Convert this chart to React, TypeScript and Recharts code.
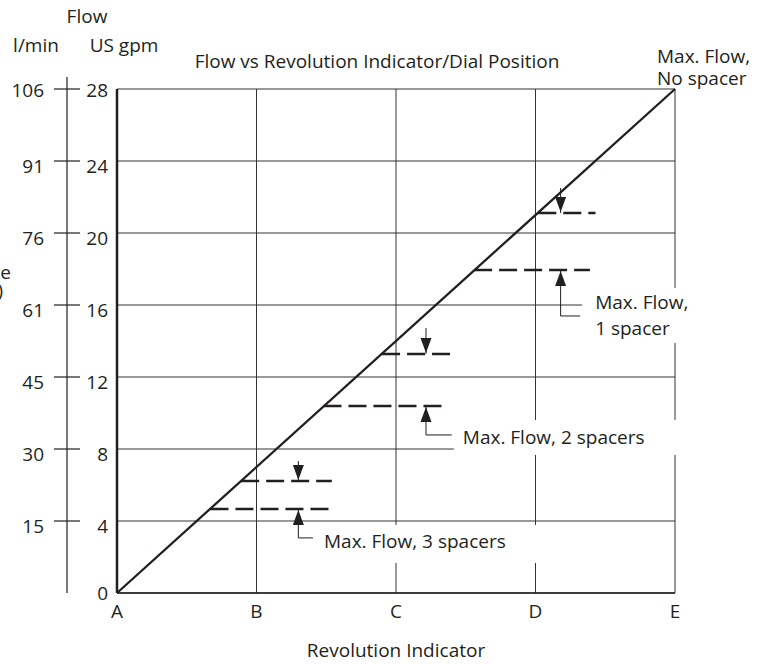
import React from "react";
import {
  ComposedChart,
  Line,
  XAxis,
  YAxis,
  CartesianGrid,
  ReferenceDot,
} from "recharts";

const positions = ["A", "B", "C", "D", "E"];
const positionTicks = [0, 1, 2, 3, 4];
const gpmTicks = [0, 4, 8, 12, 16, 20, 24, 28];
const lminLabels = ["", "15", "30", "45", "61", "76", "91", "106"];

// max flow with no spacer
const noSpacer = [
  { pos: 0, gpm: 0 },
  { pos: 4, gpm: 28 },
];

// dashed limits (pairs per spacer count: lower, upper)
const limitStart = [0.67, 0.89, 1.48, 1.9, 2.56, 3.02];
const limitEnd = [1.54, 1.54, 2.37, 2.4, 3.39, 3.43];
const limitGpm = [4.67, 6.22, 10.39, 13.28, 17.94, 21.11];

// arrows + leaders for 3, 2, 1 spacers
const arrowPos = [1.3, 2.215, 3.18];
const arrowTop = [7.33, 14.72, 22.5];
const leaderGpm = [3.06, 8.78, 15.39];
const leaderEnd = [1.405, 2.4, 3.32];
const spacerNotes = [
  ["Max. Flow, 3 spacers"],
  ["Max. Flow, 2 spacers"],
  ["Max. Flow,", "1 spacer"],
];

const INK = "#231f20";
const FONT = "'Open Sans', sans-serif";
const FS = 19;

// white boxes behind the notes, px offsets from leader end
const noteLayout = [
  { bx: 5, by: -13, bw: 232, bh: 38, tx: 11, ty: [10] },
  { bx: 2, by: -15, bw: 232, bh: 35, tx: 11, ty: [9] },
  { bx: 2, by: -28, bw: 125, bh: 55, tx: 15, ty: [-7, 19] },
];

function GpmTick(props: any) {
  const { x, y, payload } = props;
  const v = payload.value;
  const dy = v === 28 ? 1 : v === 0 ? 0 : 5;
  return (
    <text x={x} y={y + dy + 6.8} textAnchor="end" fill={INK} fontSize={FS} fontFamily={FONT}>
      {v}
    </text>
  );
}

function LminTick(props: any) {
  const { x, y, payload } = props;
  const v = payload.value;
  const label = lminLabels[gpmTicks.indexOf(v)] ?? "";
  const dy = v === 28 ? 1 : 5;
  return (
    <g>
      {v === 28 && <line x1={x} x2={x} y1={y - 12} y2={y} stroke={INK} strokeWidth={1.2} />}
      {label && <line x1={x - 13} x2={x + 13} y1={y} y2={y} stroke={INK} strokeWidth={1.2} />}
      {label && (
        <text x={x - 23} y={y + dy + 6.8} textAnchor="end" fill={INK} fontSize={FS} fontFamily={FONT}>
          {label}
        </text>
      )}
    </g>
  );
}

const arrowDown = (p: any) => (
  <path d={`M${p.cx - 5.5},${p.cy - 16} L${p.cx + 5.5},${p.cy - 16} L${p.cx},${p.cy - 1} Z`} fill={INK} />
);
const arrowUp = (p: any) => (
  <path d={`M${p.cx - 5.5},${p.cy + 16} L${p.cx + 5.5},${p.cy + 16} L${p.cx},${p.cy + 1} Z`} fill={INK} />
);

function note(i: number) {
  const l = noteLayout[i];
  return (p: any) => (
    <g>
      <rect x={p.cx + l.bx} y={p.cy + l.by} width={l.bw} height={l.bh} fill="#fff" />
      {spacerNotes[i].map((t, k) => (
        <text key={k} x={p.cx + l.tx} y={p.cy + l.ty[k]} fill={INK} fontSize={FS} fontFamily={FONT}>
          {t}
        </text>
      ))}
    </g>
  );
}

const topNote = (p: any) => (
  <g>
    <text x={p.cx - 18} y={p.cy - 26} fill={INK} fontSize={FS} fontFamily={FONT}>
      Max. Flow,
    </text>
    <text x={p.cx - 18} y={p.cy - 4} fill={INK} fontSize={FS} fontFamily={FONT}>
      No spacer
    </text>
  </g>
);

export default function App() {
  return (
    <div style={{ position: "absolute", left: 0, top: 0, width: 762, height: 664, background: "#fff" }}>
      <ComposedChart
        width={762}
        height={664}
        margin={{ top: 89, right: 87, left: 0, bottom: 0 }}
        style={{ fontFamily: FONT }}
      >
        <CartesianGrid stroke="#333" strokeWidth={1} />
        <XAxis
          type="number"
          dataKey="pos"
          domain={[0, 4]}
          ticks={positionTicks}
          tickFormatter={(v) => positions[v]}
          height={71}
          tickSize={0}
          tickMargin={12}
          tick={{ fill: INK, fontSize: FS }}
          axisLine={{ stroke: INK, strokeWidth: 1.5 }}
          label={{ value: "Revolution Indicator", position: "insideBottom", offset: 7, fill: INK, fontSize: FS }}
        />
        <YAxis
          type="number"
          domain={[0, 28]}
          ticks={gpmTicks}
          width={50}
          tickSize={0}
          tickMargin={9}
          tick={<GpmTick />}
          axisLine={{ stroke: INK, strokeWidth: 2.5 }}
        />
        <YAxis
          yAxisId="lmin"
          type="number"
          domain={[0, 28]}
          ticks={gpmTicks}
          width={67}
          tickSize={0}
          tickMargin={0}
          tick={<LminTick />}
          axisLine={{ stroke: INK, strokeWidth: 1.2 }}
        />
        {/* keeps the l/min axis bound to data so its ticks render */}
        <Line
          yAxisId="lmin"
          data={noSpacer}
          dataKey="gpm"
          stroke="none"
          dot={false}
          activeDot={false}
          isAnimationActive={false}
        />
        <Line
          data={noSpacer}
          dataKey="gpm"
          type="linear"
          stroke={INK}
          strokeWidth={2.3}
          dot={false}
          isAnimationActive={false}
        />
        {limitGpm.map((g, k) => (
          <Line
            key={`lim${k}`}
            data={[
              { pos: limitStart[k], gpm: g },
              { pos: limitEnd[k], gpm: g },
            ]}
            dataKey="gpm"
            type="linear"
            stroke={INK}
            strokeWidth={2.5}
            strokeDasharray="18 7"
            dot={false}
            isAnimationActive={false}
          />
        ))}
        {arrowPos.map((a, i) => (
          <Line
            key={`stem${i}`}
            data={[
              { pos: a, gpm: arrowTop[i] },
              { pos: a, gpm: limitGpm[2 * i + 1] },
            ]}
            dataKey="gpm"
            type="linear"
            stroke={INK}
            strokeWidth={1}
            dot={false}
            isAnimationActive={false}
          />
        ))}
        {arrowPos.map((a, i) => (
          <Line
            key={`lead${i}`}
            data={[
              { pos: a, gpm: limitGpm[2 * i] },
              { pos: a, gpm: leaderGpm[i] },
              { pos: leaderEnd[i], gpm: leaderGpm[i] },
            ]}
            dataKey="gpm"
            type="linear"
            stroke={INK}
            strokeWidth={1}
            dot={false}
            isAnimationActive={false}
          />
        ))}
        {arrowPos.map((a, i) => (
          <ReferenceDot key={`ad${i}`} x={a} y={limitGpm[2 * i + 1]} r={0} shape={arrowDown} />
        ))}
        {arrowPos.map((a, i) => (
          <ReferenceDot key={`au${i}`} x={a} y={limitGpm[2 * i]} r={0} shape={arrowUp} />
        ))}
        {leaderEnd.map((e, i) => (
          <ReferenceDot key={`n${i}`} x={e} y={leaderGpm[i]} r={0} shape={note(i)} />
        ))}
        <ReferenceDot x={4} y={28} r={0} shape={topNote} />
      </ComposedChart>
      <svg
        width={762}
        height={664}
        style={{ position: "absolute", left: 0, top: 0, pointerEvents: "none" }}
        fontFamily={FONT}
        fontSize={FS}
        fill={INK}
      >
        <text x={87} y={23} textAnchor="middle">Flow</text>
        <text x={36} y={52} textAnchor="middle">l/min</text>
        <text x={124} y={52} textAnchor="middle">US gpm</text>
        <text x={377} y={68} textAnchor="middle">Flow vs Revolution Indicator/Dial Position</text>
        <text x={11} y={279} textAnchor="end">Rate</text>
        <text x={3} y={297} textAnchor="end">(gpm)</text>
      </svg>
    </div>
  );
}
